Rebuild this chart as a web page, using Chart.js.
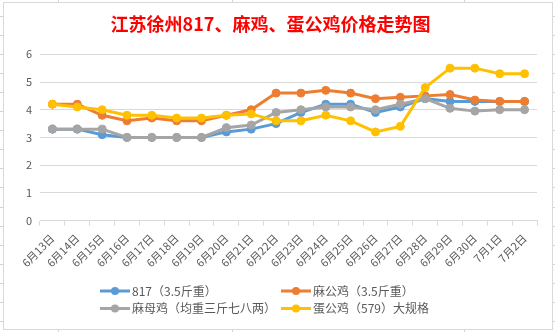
<!DOCTYPE html>
<html>
<head>
<meta charset="utf-8">
<script src="https://cdn.jsdelivr.net/npm/chart.js@4"></script>
<style>
  html, body { margin: 0; padding: 0; background: #fff; }
  body { width: 555px; height: 332px; position: relative; overflow: hidden; }
  .hl { position: absolute; left: 0; width: 555px; height: 1px; background: #d4d4d4; }
  .vl { position: absolute; top: 0; height: 332px; width: 1px; background: #d4d4d4; }
  #box {
    position: absolute; left: 3px; top: 2px; width: 550px; height: 328px;
    box-sizing: border-box; border: 1px solid #d9d9d9; background: #fff;
  }
  #chart { display: block; }
</style>
</head>
<body>
<div id="box"><canvas id="chart" width="548" height="326"></canvas></div>
<script>
const dates = ["6月13日", "6月14日", "6月15日", "6月16日", "6月17日", "6月18日", "6月19日",
    "6月20日", "6月21日", "6月22日", "6月23日", "6月24日", "6月25日", "6月26日",
    "6月27日", "6月28日", "6月29日", "6月30日", "7月1日", "7月2日"];

const price817 = [3.3, 3.3, 3.1, 3.0, 3.0, 3.0, 3.0, 3.2, 3.3, 3.5, 3.9, 4.2, 4.2, 3.9, 4.1, 4.4, 4.3, 4.3, 4.3, 4.3];
const maGongJi = [4.2, 4.2, 3.8, 3.6, 3.7, 3.6, 3.6, 3.8, 4.0, 4.6, 4.6, 4.7, 4.6, 4.4, 4.45, 4.5, 4.55, 4.35, 4.3, 4.3];
const maMuJi = [3.3, 3.3, 3.3, 3.0, 3.0, 3.0, 3.0, 3.35, 3.45, 3.9, 4.0, 4.1, 4.1, 4.0, 4.2, 4.4, 4.05, 3.95, 4.0, 4.0];
const danGongJi = [4.2, 4.1, 4.0, 3.8, 3.8, 3.7, 3.7, 3.8, 3.85, 3.6, 3.6, 3.8, 3.6, 3.2, 3.4, 4.8, 5.5, 5.5, 5.3, 5.3];

const seriesNames = ["817（3.5斤重）", "麻公鸡（3.5斤重）", "麻母鸡（均重三斤七八两）", "蛋公鸡（579）大规格"];
const colors = ["#5B9BD5", "#ED7D31", "#A5A5A5", "#FFC000"];

const FONT = '"Noto Sans CJK SC", "Noto Sans", sans-serif';

// spreadsheet cell lines behind the chart box
const drawSheet = () => {
    for (let i = 0; i < 18; i++) {
        const d = document.createElement("div");
        d.className = "hl";
        d.style.top = Math.round(16 + i * 19.05) + "px";
        document.body.insertBefore(d, document.body.firstChild);
    }
    [58, 232, 464].forEach(x => {
        const d = document.createElement("div");
        d.className = "vl";
        d.style.left = x + "px";
        document.body.insertBefore(d, document.body.firstChild);
    });
};

// legend in two fixed columns, like the Excel one
const legendPlugin = {
    id: "twoColLegend",
    afterDraw(chart) {
        const ctx = chart.ctx;
        const colX = [96, 277];
        const rowY = [288, 305.5];
        chart.data.datasets.forEach((ds, i) => {
            const x = colX[i % 2];
            const y = rowY[Math.floor(i / 2)];
            ctx.save();
            ctx.strokeStyle = ds.borderColor;
            ctx.lineWidth = 3;
            ctx.beginPath();
            ctx.moveTo(x, y);
            ctx.lineTo(x + 30, y);
            ctx.stroke();
            ctx.fillStyle = ds.borderColor;
            ctx.beginPath();
            ctx.arc(x + 15, y, 4, 0, Math.PI * 2);
            ctx.fill();
            ctx.font = "12px " + FONT;
            ctx.fillStyle = "#595959";
            ctx.textBaseline = "middle";
            ctx.fillText(ds.label, x + 32, y);
            ctx.restore();
        });
    }
};

const makeDataset = (i, values) => ({
    label: seriesNames[i],
    data: values,
    borderColor: colors[i],
    backgroundColor: colors[i],
    pointBackgroundColor: colors[i],
    pointBorderColor: colors[i],
    borderWidth: 3,
    pointRadius: 4,
    pointBorderWidth: 1,
    tension: 0,
    order: 4 - i,
});

const getConfig = () => ({
    type: "line",
    data: {
        labels: dates,
        datasets: [
            makeDataset(0, price817),
            makeDataset(1, maGongJi),
            makeDataset(2, maMuJi),
            makeDataset(3, danGongJi),
        ],
    },
    options: {
        responsive: false,
        animation: false,
        layout: { padding: { left: 0, right: 15, top: 0, bottom: 58.4 } },
        plugins: {
            legend: { display: false },
            tooltip: { enabled: false },
            title: {
                display: true,
                text: "江苏徐州817、麻鸡、蛋公鸡价格走势图",
                color: "#FF0000",
                font: { family: FONT, size: 18, weight: "bold" },
                padding: { top: 9.9, bottom: 19.8 },
            },
        },
        scales: {
            x: {
                offset: true,
                grid: {
                    offset: true,
                    drawOnChartArea: false,
                    drawTicks: true,
                    tickLength: 5,
                    color: "#d9d9d9",
                },
                border: { color: "#d9d9d9" },
                ticks: {
                    color: "#595959",
                    font: { family: FONT, size: 11 },
                    minRotation: 45,
                    maxRotation: 45,
                    autoSkip: false,
                    padding: 6,
                },
                afterFit(scale) { scale.height = 50; },
            },
            y: {
                min: 0,
                max: 6,
                grid: { color: "#d9d9d9", drawTicks: false },
                border: { display: false },
                ticks: {
                    stepSize: 1,
                    color: "#595959",
                    font: { family: FONT, size: 11 },
                    padding: 8,
                },
                afterFit(scale) { scale.width = 36; },
            },
        },
    },
    plugins: [legendPlugin],
});

const main = () => {
    drawSheet();
    const ctx = document.getElementById("chart").getContext("2d");
    new Chart(ctx, getConfig());
};

main();
</script>
</body>
</html>
